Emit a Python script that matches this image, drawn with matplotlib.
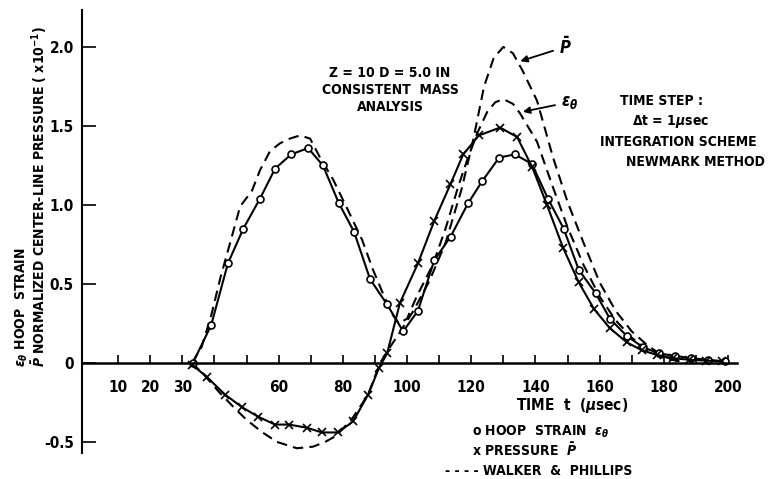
import matplotlib
matplotlib.use("Agg")
import matplotlib.pyplot as plt
from matplotlib.ticker import FixedLocator, FixedFormatter

hoop_t = [33.3, 39, 44.2, 49, 54.2, 58.9, 63.9, 69.2, 73.8, 78.8, 83.5, 88.5, 93.8, 98.8,
          103.4, 108.5, 113.6, 119, 123.4, 128.7, 133.6, 138.9, 143.9, 148.8, 153.5, 158.8,
          163.2, 168.5, 173.5, 178.5, 183.5, 188.5, 193.8, 199]
hoop_v = [0.0, 0.24, 0.63, 0.85, 1.04, 1.23, 1.32, 1.36, 1.25, 1.01, 0.83, 0.53, 0.37, 0.20,
          0.33, 0.65, 0.80, 1.01, 1.15, 1.30, 1.32, 1.26, 1.04, 0.85, 0.59, 0.44,
          0.28, 0.17, 0.10, 0.06, 0.045, 0.03, 0.02, 0.01]

pres_t = [33, 37.7, 43.3, 48.6, 53.6, 58.9, 63.2, 68.8, 73.5, 78.5, 83.2, 87.9, 91.3, 93.8,
          97.8, 103.4, 108.5, 113.5, 117.5, 122.4, 129, 134.3, 139, 143.6, 148.6, 153.5,
          158.3, 163.2, 168.5, 173.2, 178, 183, 188, 193, 198]
pres_v = [-0.01, -0.09, -0.20, -0.28, -0.34, -0.39, -0.39, -0.41, -0.44, -0.44, -0.37, -0.20,
          -0.03, 0.06, 0.38, 0.63, 0.90, 1.13, 1.32, 1.44, 1.49, 1.43, 1.24, 1.00, 0.73, 0.51,
          0.34, 0.22, 0.13, 0.08, 0.05, 0.03, 0.02, 0.015, 0.01]

# Walker & Phillips (dashed)
wp_eps_t = [33, 36, 39, 42, 44.9, 48, 51.7, 54.2, 57.3, 60.4, 63.5, 66.7, 69.8, 72.9, 77,
            81.3, 86, 89.4, 92.5, 95, 97.5, 100, 103, 108, 112, 116, 119, 122, 125, 127.5,
            130, 133, 135.2, 140.5, 145.5, 150, 155, 160, 165, 170, 175, 180, 185]
wp_eps_v = [0.0, 0.1, 0.3, 0.55, 0.76, 0.99, 1.09, 1.22, 1.34, 1.39, 1.42, 1.44, 1.42, 1.30,
            1.16, 0.98, 0.78, 0.59, 0.44, 0.32, 0.25, 0.28, 0.42, 0.62, 0.85, 1.12, 1.30,
            1.46, 1.59, 1.65, 1.67, 1.64, 1.58, 1.40, 1.11, 0.86, 0.62, 0.42, 0.27, 0.16,
            0.08, 0.03, 0.01]

wp_p_t = [33, 37, 41.7, 46, 50, 55, 59.5, 65.7, 70.7, 74.5, 78, 83, 87.9, 91.6, 94.7, 97,
          102, 107, 112, 117, 120.5, 124, 127, 130, 133, 136, 140.5, 145.5, 150, 155, 160,
          165, 170, 175, 180, 185]
wp_p_v = [0.0, -0.08, -0.19, -0.28, -0.36, -0.44, -0.50, -0.54, -0.53, -0.50, -0.46, -0.35,
          -0.20, 0.0, 0.10, 0.17, 0.33, 0.52, 0.76, 1.10, 1.40, 1.75, 1.93, 2.0, 1.96, 1.85,
          1.66, 1.30, 1.02, 0.76, 0.51, 0.33, 0.20, 0.11, 0.04, 0.01]

x_ticks = list(range(10, 201, 10))
x_labels = ["10", "20", "30", "", "", "60", "", "80", "", "100", "", "120", "", "140", "",
            "160", "", "180", "", "200"]
y_ticks = [-0.5, 0, 0.5, 1.0, 1.5, 2.0]
y_labels = ["-0.5", "0", "0.5", "1.0", "1.5", "2.0"]

plt.rcParams["font.family"] = ["DejaVu Sans"]
plt.rcParams["font.stretch"] = "condensed"
plt.rcParams["font.weight"] = "bold"
plt.rcParams["mathtext.fontset"] = "dejavusans"
FS = 10

fig = plt.figure(figsize=(7.71, 4.79), dpi=100)
ax = fig.add_axes([82 / 771, 1 - 453 / 479, 655 / 771, 443 / 479])

dash = (0, (5, 3))
ax.plot(wp_p_t, wp_p_v, color="black", lw=1.5, ls=dash)
ax.plot(wp_eps_t, wp_eps_v, color="black", lw=1.5, ls=dash)
ax.plot(hoop_t, hoop_v, color="black", lw=1.5, marker="o", ms=5, mfc="white", mec="black", mew=1.2)
ax.plot(pres_t, pres_v, color="black", lw=1.5, marker="x", ms=5.5, mew=1.2)

ax.set_xlim(-1.25, 202.8)
ax.set_ylim(-0.57, 2.234)

for s in ["top", "right"]:
    ax.spines[s].set_visible(False)
ax.spines["bottom"].set_position(("data", 0))
ax.spines["bottom"].set_linewidth(1.8)
ax.spines["left"].set_linewidth(1.5)

ax.xaxis.set_major_locator(FixedLocator(x_ticks))
ax.xaxis.set_major_formatter(FixedFormatter(x_labels))
ax.yaxis.set_major_locator(FixedLocator(y_ticks))
ax.yaxis.set_major_formatter(FixedFormatter(y_labels))
ax.tick_params(axis="x", direction="in", length=6, width=1.2, pad=12, labelsize=FS + 1)
ax.tick_params(axis="y", direction="in", length=10, width=1.2, pad=6, labelsize=FS + 1)

ax.set_xlabel(r"TIME  t  ($\mu$sec)", fontsize=FS + 1, fontweight="bold")
ax.xaxis.set_label_coords((572 - 82) / 655, (453 - 396) / 443)

fig.text(31 / 771, 1 - 367 / 479,
         "$\\epsilon_\\theta$ HOOP  STRAIN\n$\\bar{P}$ NORMALIZED CENTER-LINE PRESSURE ( x10$^{-1}$)",
         rotation=90, ha="center", va="bottom", multialignment="left", fontsize=FS,
         linespacing=0.95)

fig.text(390 / 771, 1 - 90 / 479, "Z = 10 D = 5.0 IN\nCONSISTENT  MASS\nANALYSIS",
         ha="center", va="center", fontsize=FS, linespacing=1.25)
fig.text(620 / 771, 1 - 101 / 479, "TIME STEP :", ha="left", va="center", fontsize=FS)
fig.text(632 / 771, 1 - 121 / 479, r"$\Delta$t = 1$\mu$sec", ha="left", va="center", fontsize=FS)
fig.text(600 / 771, 1 - 142 / 479, "INTEGRATION SCHEME", ha="left", va="center", fontsize=FS)
fig.text(765 / 771, 1 - 162 / 479, "NEWMARK METHOD", ha="right", va="center", fontsize=FS)

ax.annotate(r"$\bar{P}$", xy=(135.3, 1.91), xytext=(149.2, 2.0), fontsize=FS + 2,
            ha="center", va="center",
            arrowprops=dict(arrowstyle="-|>", color="black", lw=1.3, mutation_scale=10, shrinkB=0))
ax.annotate(r"$\epsilon_\theta$", xy=(136.1, 1.59), xytext=(150.5, 1.65), fontsize=FS + 2,
            ha="center", va="center",
            arrowprops=dict(arrowstyle="-|>", color="black", lw=1.3, mutation_scale=10, shrinkB=0))

fig.text(472 / 771, 1 - 432 / 479, "o HOOP  STRAIN  $\\epsilon_\\theta$", ha="left", va="center", fontsize=FS)
fig.text(472 / 771, 1 - 450 / 479, "x PRESSURE  $\\bar{P}$", ha="left", va="center", fontsize=FS)
fig.text(445 / 771, 1 - 471 / 479, "- - - - WALKER  &  PHILLIPS", ha="left", va="center", fontsize=FS)

fig.savefig("out.png", dpi=100)
